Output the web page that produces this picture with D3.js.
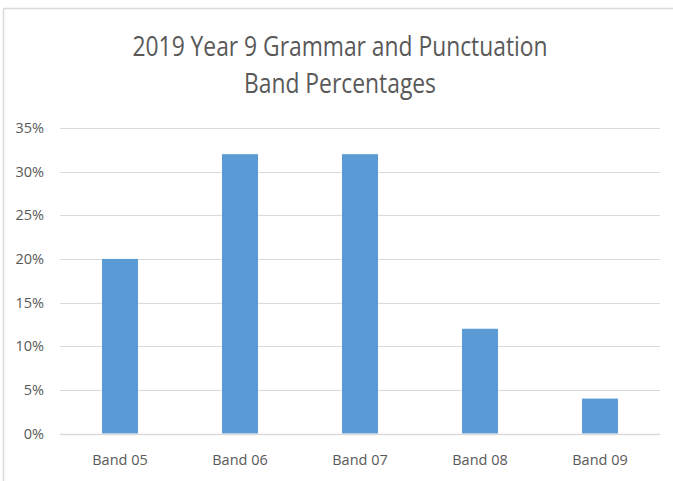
<!DOCTYPE html>
<html>
<head>
<meta charset="utf-8">
<script src="https://cdn.jsdelivr.net/npm/d3@7"></script>
<style>
  html, body { margin: 0; padding: 0; background: #fff; }
  svg { display: block; }
  text { font-family: "Open Sans", "Liberation Sans", sans-serif; }
</style>
</head>
<body>
<svg id="chart" width="673" height="481"></svg>
<script>
// Band categories and the share of students in each band
const bands = ["Band 05", "Band 06", "Band 07", "Band 08", "Band 09"];
const percentages = [20, 32, 32, 12, 4];
const yTicks = [0, 5, 10, 15, 20, 25, 30, 35];
const titleLines = ["2019 Year 9 Grammar and Punctuation", "Band Percentages"];
const titleWidths = [415, 192];

const svg = d3.select("#chart");
const W = 673, H = 481;

// outer chart frame (top and left edges)
svg.append("line").attr("x1", 3.5).attr("x2", W).attr("y1", 8.5).attr("y2", 8.5)
  .attr("stroke", "#d9d9d9").attr("stroke-width", 1.5);
svg.append("line").attr("x1", 3.5).attr("x2", 3.5).attr("y1", 8.5).attr("y2", H)
  .attr("stroke", "#d9d9d9").attr("stroke-width", 1.5);

const plot = { left: 60, right: 660, top: 128, bottom: 433.5 };

const x = d3.scaleBand().domain(bands).range([plot.left, plot.right]).paddingInner(0.7).paddingOuter(0.35);
const y = d3.scaleLinear().domain([0, 35]).range([plot.bottom, plot.top]);

// title, set in a condensed width
svg.append("g").selectAll("text").data(titleLines).join("text")
  .attr("x", 340).attr("y", (d, i) => 56 + i * 37)
  .attr("text-anchor", "middle")
  .attr("font-size", 26.5)
  .attr("fill", "#595959")
  .attr("textLength", (d, i) => titleWidths[i])
  .attr("lengthAdjust", "spacingAndGlyphs")
  .text(d => d);

// horizontal gridlines
svg.append("g").selectAll("line").data(yTicks.filter(t => t > 0)).join("line")
  .attr("x1", plot.left).attr("x2", plot.right)
  .attr("y1", d => Math.round(y(d)) + 0.5).attr("y2", d => Math.round(y(d)) + 0.5)
  .attr("stroke", "#d9d9d9").attr("stroke-width", 1);

// y axis labels
const yAxis = d3.axisLeft(y).tickValues(yTicks).tickSize(0).tickPadding(0).tickFormat(d => d + "%");
svg.append("g").attr("transform", `translate(44,0)`).call(yAxis)
  .call(g => g.select(".domain").remove())
  .call(g => g.selectAll("text").attr("font-size", 14.5).attr("fill", "#595959")
    .attr("font-family", "'Open Sans', sans-serif"));

// bars
svg.append("g").selectAll("rect").data(bands).join("rect")
  .attr("x", d => x(d))
  .attr("width", x.bandwidth())
  .attr("y", (d, i) => y(percentages[i]))
  .attr("height", (d, i) => y(0) - y(percentages[i]))
  .attr("fill", "#5b9bd5");

// baseline
svg.append("line").attr("x1", plot.left).attr("x2", plot.right)
  .attr("y1", Math.round(y(0)) + 0.5).attr("y2", Math.round(y(0)) + 0.5)
  .attr("stroke", "#d9d9d9").attr("stroke-width", 1.5);

// x axis labels
const xAxis = d3.axisBottom(x.copy().paddingInner(0).paddingOuter(0)).tickSize(0).tickPadding(0);
svg.append("g").attr("transform", `translate(0,455)`).call(xAxis)
  .call(g => g.select(".domain").remove())
  .call(g => g.selectAll("text").attr("font-size", 14.5).attr("fill", "#595959")
    .attr("font-family", "'Open Sans', sans-serif"));
</script>
</body>
</html>
